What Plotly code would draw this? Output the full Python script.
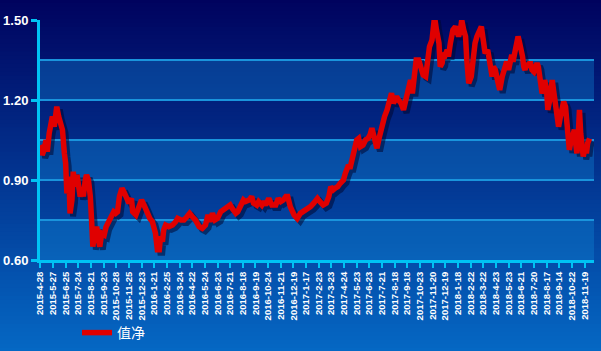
import plotly.graph_objects as go

# ---- data ----
tick_dates = ["2015-4-28", "2015-5-27", "2015-6-25", "2015-7-24", "2015-8-21", "2015-9-23",
              "2015-10-28", "2015-11-25", "2015-12-23", "2016-1-21", "2016-2-25", "2016-3-24",
              "2016-4-22", "2016-5-24", "2016-6-23", "2016-7-21", "2016-8-18", "2016-9-19",
              "2016-10-24", "2016-11-21", "2016-12-19", "2017-1-17", "2017-2-23", "2017-3-23",
              "2017-4-24", "2017-5-23", "2017-6-23", "2017-7-21", "2017-8-18", "2017-9-18",
              "2017-10-23", "2017-11-20", "2017-12-19", "2018-1-18", "2018-2-22", "2018-3-22",
              "2018-4-23", "2018-5-23", "2018-6-21", "2018-7-20", "2018-8-17", "2018-9-14",
              "2018-10-22", "2018-11-19"]
tick_step = 20  # trading days between labelled dates

day_index = [0, 1, 3, 6, 9, 11, 14, 17, 19, 22, 24, 26, 29, 32, 35, 38, 40, 42, 45, 47,
             50, 52, 55, 58, 60, 63, 66, 68, 71, 73, 76, 79, 81, 83, 86, 89, 92, 94, 97, 101,
             104, 109, 113, 116, 119, 122, 125, 129, 132, 136, 140, 144, 146, 151, 155, 160, 164, 169, 173, 177,
             180, 182, 185, 188, 190, 193, 195, 198, 203, 209, 214, 217, 222, 227, 232, 236, 240, 245, 251, 256,
             261, 265, 268, 272, 276, 280, 285, 290, 295, 300, 303, 309, 312, 316, 321, 324, 330, 334, 337, 342,
             345, 350, 353, 356, 361, 366, 372, 376, 380, 384, 388, 391, 395, 401, 406, 411, 416, 422, 427, 432,
             438, 442, 447, 452, 456, 459, 463, 466, 470, 474, 479, 482, 486, 490, 493, 496, 500, 503, 506, 510,
             514, 518, 521, 524, 528, 532, 536, 540, 544, 548, 552, 555, 558, 563, 566, 570, 574, 578, 582, 585,
             588, 591, 594, 598, 601, 605, 609, 612, 615, 619, 623, 626, 630, 632, 635, 637, 640, 643, 645, 648,
             652, 656, 659, 661, 664, 666, 669, 672, 674, 677, 681, 684, 687, 690, 694, 697, 700, 703, 707, 710,
             714, 716, 719, 723, 726, 730, 732, 735, 737, 740, 743, 745, 747, 749, 752, 755, 757, 760, 762, 764,
             766, 769, 772, 774, 777, 780, 782, 785, 787, 790, 793, 795, 797, 800, 802, 805, 809, 811, 814, 816,
             819, 822, 824, 827, 830, 832, 834, 836, 838, 841, 844, 846, 848, 850, 852, 854, 856, 858, 861, 863,
             865, 868]

nav_value = [1.031, 1.025, 0.994, 1.013, 1.050, 1.006, 1.075, 1.125, 1.138, 1.100, 1.156, 1.175, 1.138, 1.119, 1.088, 1.000, 0.963, 0.850, 0.913, 0.775,
             0.825, 0.931, 0.875, 0.919, 0.888, 0.838, 0.863, 0.838, 0.900, 0.919, 0.900, 0.838, 0.750, 0.650, 0.700, 0.725, 0.675, 0.650, 0.700, 0.694,
             0.725, 0.750, 0.763, 0.781, 0.775, 0.781, 0.838, 0.869, 0.856, 0.838, 0.813, 0.831, 0.781, 0.769, 0.794, 0.825, 0.806, 0.775, 0.756, 0.744,
             0.713, 0.700, 0.638, 0.638, 0.688, 0.669, 0.713, 0.731, 0.725, 0.731, 0.744, 0.756, 0.750, 0.750, 0.763, 0.775, 0.763, 0.750, 0.725, 0.719,
             0.731, 0.769, 0.744, 0.775, 0.750, 0.756, 0.781, 0.788, 0.800, 0.806, 0.794, 0.775, 0.781, 0.806, 0.825, 0.819, 0.825, 0.838, 0.813, 0.806,
             0.819, 0.806, 0.819, 0.806, 0.831, 0.806, 0.806, 0.831, 0.819, 0.825, 0.838, 0.838, 0.800, 0.769, 0.756, 0.775, 0.781, 0.794, 0.800, 0.813,
             0.831, 0.819, 0.806, 0.813, 0.838, 0.875, 0.863, 0.869, 0.875, 0.888, 0.900, 0.925, 0.950, 0.950, 0.988, 1.013, 1.050, 1.056, 1.025, 1.031,
             1.050, 1.056, 1.069, 1.094, 1.056, 1.019, 1.063, 1.113, 1.138, 1.163, 1.213, 1.225, 1.188, 1.213, 1.200, 1.188, 1.163, 1.200, 1.250, 1.275,
             1.225, 1.300, 1.350, 1.350, 1.325, 1.294, 1.288, 1.350, 1.400, 1.425, 1.512, 1.463, 1.413, 1.325, 1.338, 1.375, 1.369, 1.388, 1.363, 1.413,
             1.463, 1.475, 1.450, 1.438, 1.463, 1.500, 1.463, 1.438, 1.350, 1.263, 1.288, 1.363, 1.413, 1.438, 1.463, 1.475, 1.425, 1.375, 1.388, 1.338,
             1.288, 1.325, 1.313, 1.269, 1.238, 1.288, 1.300, 1.325, 1.344, 1.313, 1.350, 1.369, 1.344, 1.375, 1.413, 1.438, 1.419, 1.394, 1.363, 1.325,
             1.313, 1.338, 1.325, 1.344, 1.313, 1.306, 1.325, 1.338, 1.325, 1.275, 1.225, 1.238, 1.275, 1.238, 1.163, 1.200, 1.275, 1.238, 1.188, 1.125,
             1.100, 1.138, 1.163, 1.194, 1.175, 1.113, 1.050, 1.013, 1.038, 1.075, 1.088, 1.038, 1.000, 1.063, 1.163, 1.075, 0.994, 0.988, 1.025, 1.000,
             1.038, 1.056]

series_name = "值净"
y_min, y_max = 0.60, 1.50
x_max = 875

# ---- layout geometry ----
W, H = 601, 351
ml, mr, mt, mb = 40, 7, 20, 91
pw, ph = W - ml - mr, H - mt - mb
x_range = [-0.5, x_max]
px_per_x = pw / (x_range[1] - x_range[0])
py_per_y = ph / (y_max - y_min)
shadow_dx, shadow_dy = 3, 3

fig = go.Figure()

# shadow (same data, drawn on a slightly shifted overlay axis pair)
fig.add_trace(go.Scatter(x=day_index, y=nav_value, mode="lines", xaxis="x2", yaxis="y2",
                         line=dict(color="rgba(0,8,50,0.55)", width=6), showlegend=False,
                         hoverinfo="skip"))
# main line
fig.add_trace(go.Scatter(x=day_index, y=nav_value, mode="lines", name=series_name,
                         xaxis="x3", yaxis="y3",
                         line=dict(color="#e00000", width=5.5)))

# gradient background (paper)
shapes = []
n = 90
top_px, bot_px = -5, H + 5
for k in range(n):
    y0p = top_px + (bot_px - top_px) * k / n
    y1p = top_px + (bot_px - top_px) * (k + 1) / n + 1
    t = min(max((y0p + y1p) / 2, 0), H)
    r = int(round(0 + 5 * t / H))
    g = int(round(2 + 0.29 * t))
    b = int(round(94 + 0.29 * t))
    shapes.append(dict(type="rect", xref="paper", yref="paper", layer="below",
                       x0=-ml / pw - 0.02, x1=(W - ml) / pw + 0.02,
                       y0=(mt + ph - y1p) / ph, y1=(mt + ph - y0p) / ph,
                       line=dict(width=0), fillcolor=f"rgb({r},{g},{b})"))
# lighter alternating bands
for lo, hi in [(0.60, 0.75), (0.90, 1.05), (1.20, 1.35)]:
    shapes.append(dict(type="rect", xref="paper", yref="y", layer="below",
                       x0=0, x1=1, y0=lo, y1=hi, line=dict(width=0),
                       fillcolor="rgba(17,138,214,0.35)"))

axis_color = "#00c4f4"
grid_color = "#1a94dc"
font_family = "Liberation Sans, Arial, sans-serif"

fig.update_layout(
    width=W, height=H,
    margin=dict(l=ml, r=mr, t=mt, b=mb, autoexpand=False),
    paper_bgcolor="rgb(5,104,196)",
    plot_bgcolor="rgba(0,0,0,0)",
    shapes=shapes,
    showlegend=True,
    legend=dict(orientation="h", x=(77 - ml) / pw, xanchor="left",
                y=(mt + ph - 333) / ph, yanchor="middle",
                font=dict(family="Noto Sans CJK SC, sans-serif", size=14, color="white"),
                bgcolor="rgba(0,0,0,0)"),
    xaxis=dict(range=x_range, tickmode="array", automargin=False,
               tickvals=[i * tick_step for i in range(len(tick_dates))],
               ticktext=tick_dates, tickangle=-90,
               tickfont=dict(family=font_family, size=9.5, color="white", weight="bold"),
               ticks="outside", ticklen=5, tickwidth=2, tickcolor=axis_color,
               showline=True, linecolor=axis_color, linewidth=3,
               showgrid=False, zeroline=False, fixedrange=True),
    yaxis=dict(range=[y_min, y_max], tickmode="linear", tick0=0.6, dtick=0.3,
               tickformat=".2f", automargin=False,
               tickfont=dict(family=font_family, size=13, color="white", weight="bold"),
               ticks="outside", ticklen=6, tickwidth=3, tickcolor=axis_color,
               showline=True, linecolor=axis_color, linewidth=3,
               showgrid=True, gridcolor=grid_color, gridwidth=2,
               minor=dict(dtick=0.15, tick0=0.6, showgrid=True, gridcolor=grid_color,
                          gridwidth=2, ticks=""),
               zeroline=False, fixedrange=True),
    xaxis2=dict(overlaying="x", visible=False,
                range=[x_range[0] - shadow_dx / px_per_x, x_range[1] - shadow_dx / px_per_x]),
    yaxis2=dict(overlaying="y", visible=False,
                range=[y_min + shadow_dy / py_per_y, y_max + shadow_dy / py_per_y]),
    xaxis3=dict(overlaying="x", visible=False, range=x_range),
    yaxis3=dict(overlaying="y", visible=False, range=[y_min, y_max]),
)

fig.write_html("out.html")
